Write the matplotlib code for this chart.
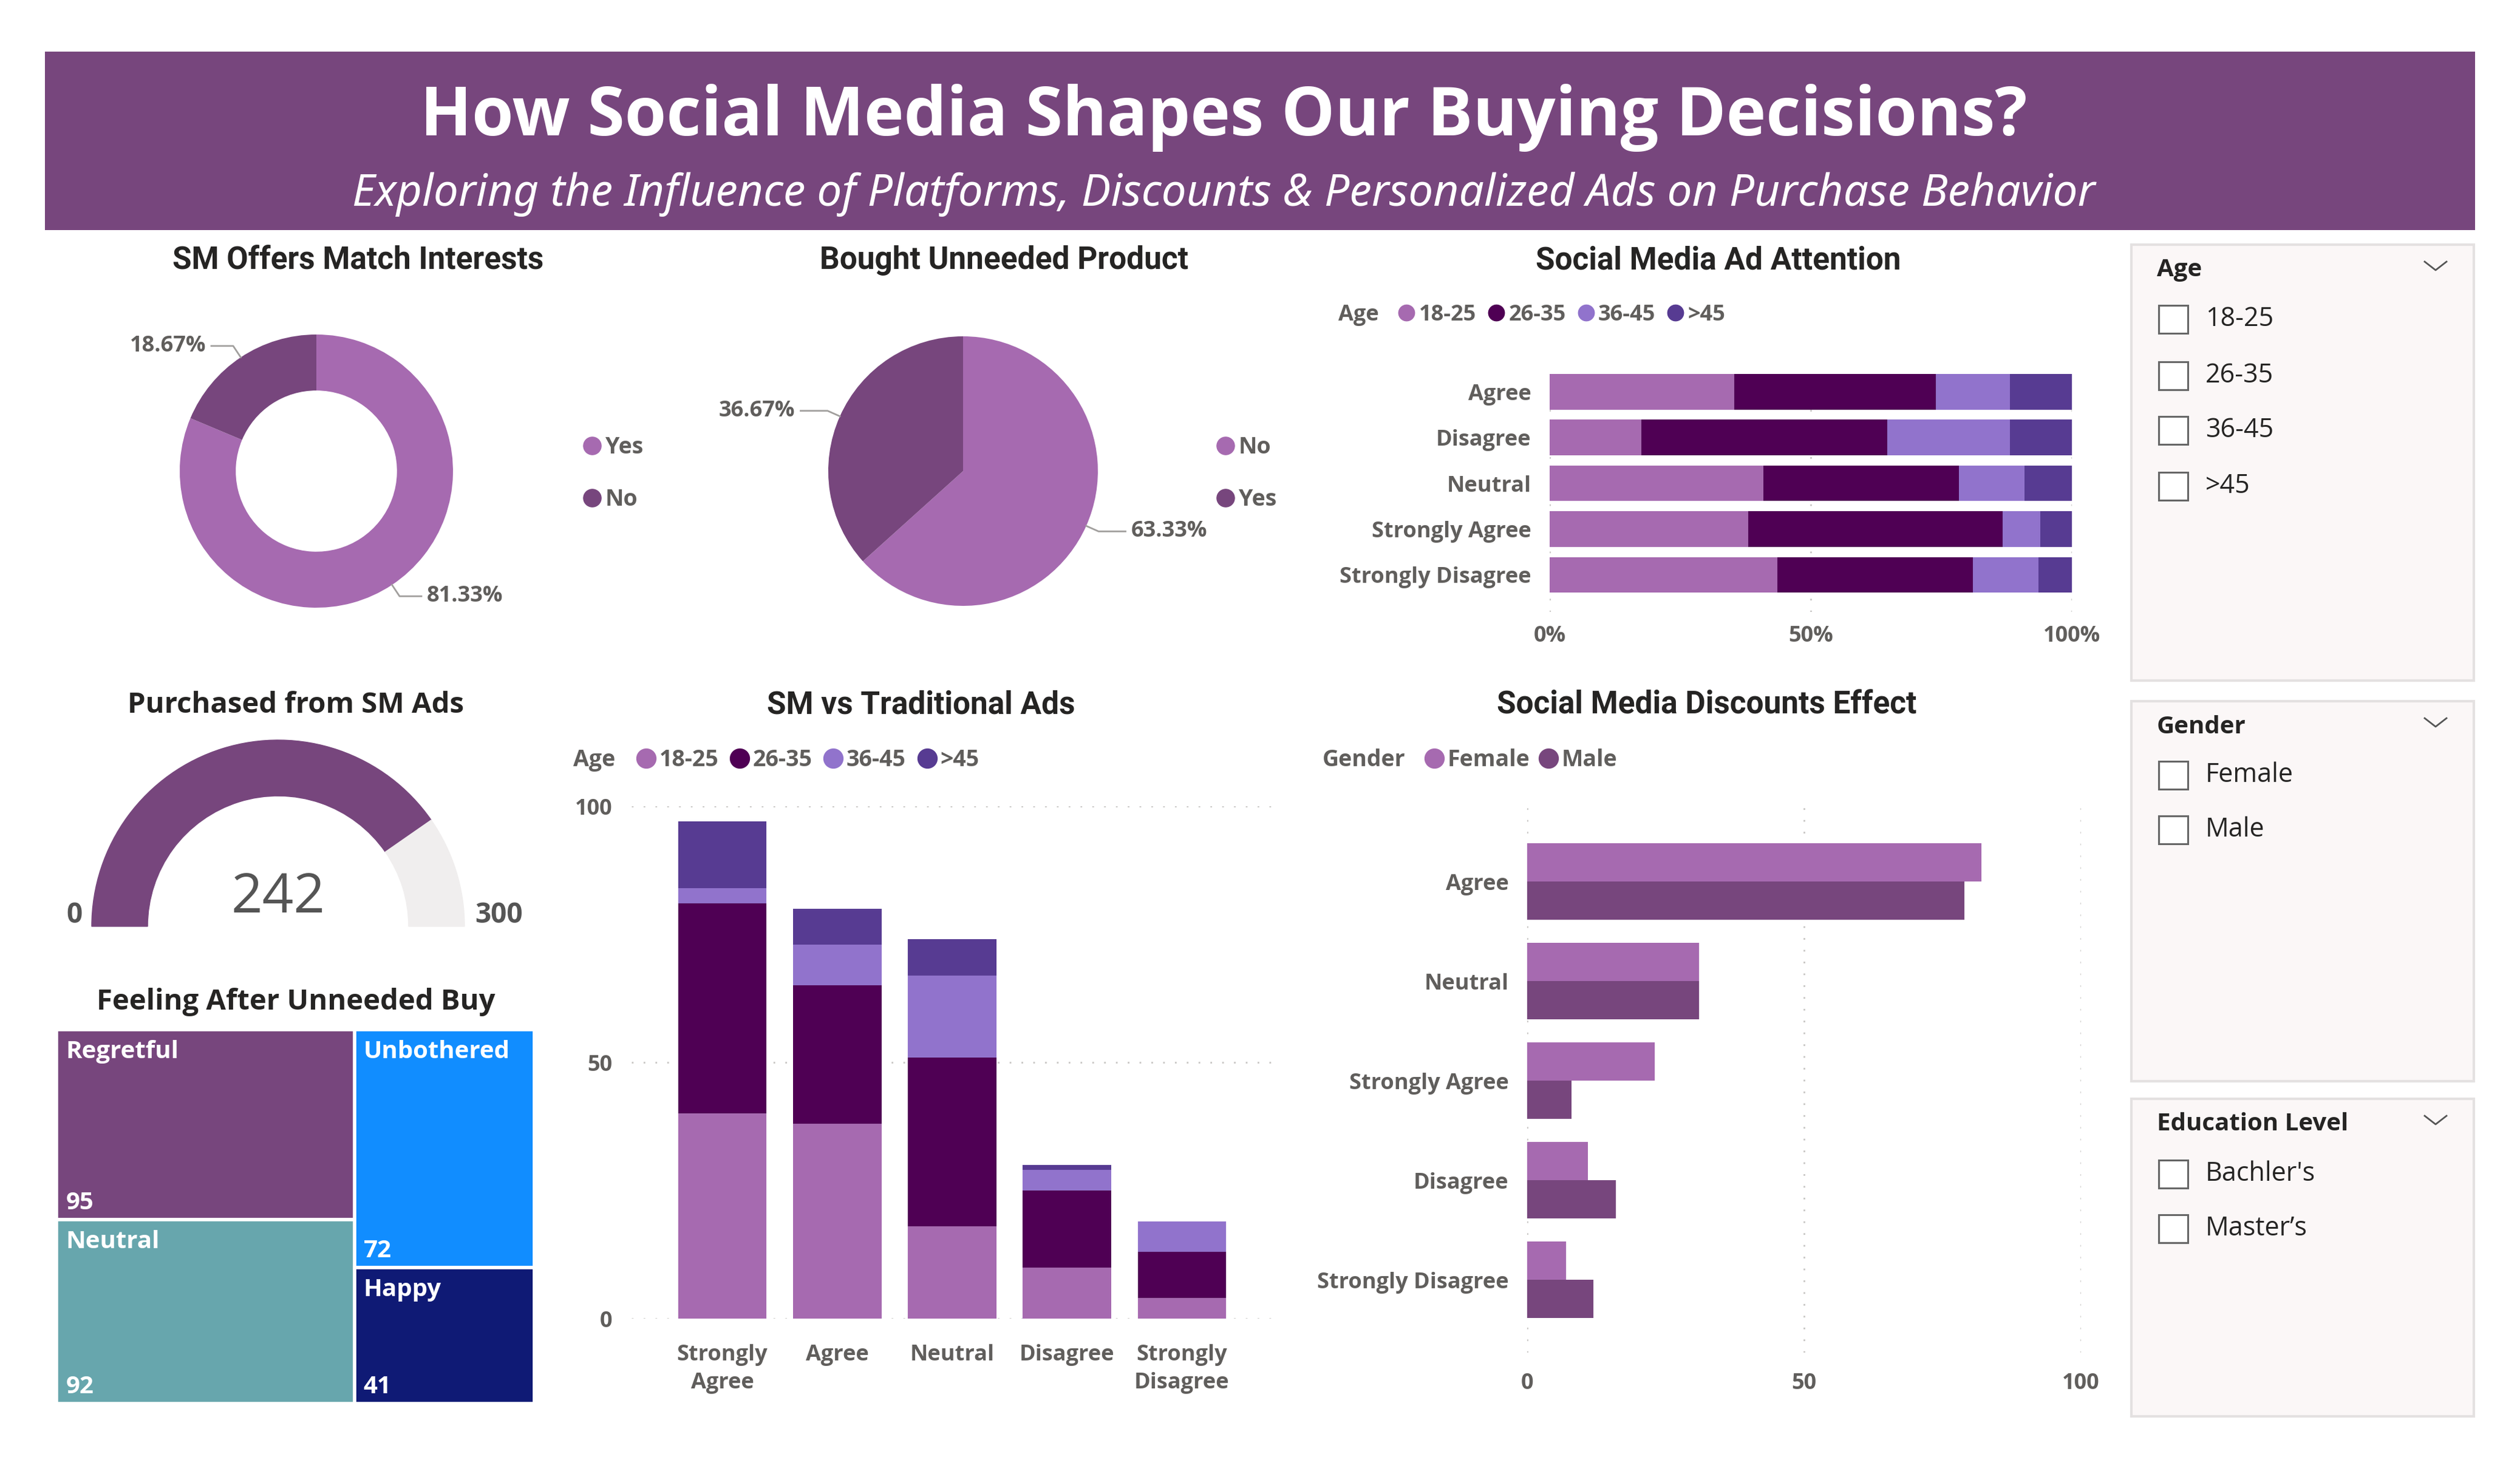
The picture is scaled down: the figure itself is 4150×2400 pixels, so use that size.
import numpy as np
import matplotlib
matplotlib.use('Agg')
import matplotlib.pyplot as plt
from matplotlib.patches import Rectangle, Wedge
from matplotlib.lines import Line2D
from matplotlib import font_manager

W, H = 4150, 2400

# ---- data ----
offers_labels = ['Yes', 'No']
offers_share = [81.33, 18.67]

unneeded_labels = ['No', 'Yes']
unneeded_share = [63.33, 36.67]

purchased_sm = 242
gauge_max = 300

feelings = ['Regretful', 'Neutral', 'Unbothered', 'Happy']
feeling_counts = [95, 92, 72, 41]

ages = ['18-25', '26-35', '36-45', '>45']

attention_cats = ['Agree', 'Disagree', 'Neutral', 'Strongly Agree', 'Strongly Disagree']
attention_18_25 = [35.4, 17.6, 40.9, 38.0, 43.6]
attention_26_35 = [38.5, 47.0, 37.5, 48.8, 37.5]
attention_36_45 = [14.2, 23.5, 12.5, 7.2, 12.5]
attention_45_up = [11.9, 11.9, 9.1, 6.0, 6.4]

trad_cats = ['Strongly\nAgree', 'Agree', 'Neutral', 'Disagree', 'Strongly\nDisagree']
trad_18_25 = [40, 38, 18, 10, 4]
trad_26_35 = [41, 27, 33, 15, 9]
trad_36_45 = [3, 8, 16, 4, 6]
trad_45_up = [13, 7, 7, 1, 0]

disc_cats = ['Agree', 'Neutral', 'Strongly Agree', 'Disagree', 'Strongly Disagree']
disc_female = [82, 31, 23, 11, 7]
disc_male = [79, 31, 8, 16, 12]

slicer_titles = ['Age', 'Gender', 'Education Level']
slicer_items = [['18-25', '26-35', '36-45', '>45'], ['Female', 'Male'], ["Bachler's", "Master\u2019s"]]

# ---- colours / fonts ----
LIGHT = '#A66AB0'
DARK = '#77467D'
DEEP = '#4F0054'
LAV = '#9173CC'
INDIGO = '#573B92'
age_colors = [LIGHT, DEEP, LAV, INDIGO]
feeling_colors = [DARK, '#67A6AD', '#118DFF', '#0F1A75']
GREY = '#605E5C'
INK = '#252423'

plt.rcParams['font.family'] = ['Open Sans', 'DejaVu Sans']
names = {f.name for f in font_manager.fontManager.ttflist}
TFONT = 'Liberation Sans Narrow' if 'Liberation Sans Narrow' in names else 'Roboto'

fig = plt.figure(figsize=(W / 100, H / 100), dpi=100)
fig.patch.set_facecolor('white')


def fbox(x0, y0, x1, y1):
    return [x0 / W, 1 - y1 / H, (x1 - x0) / W, (y1 - y0) / H]


def ftext(x, y, s, **kw):
    return fig.text(x / W, 1 - y / H, s, **kw)


def round_limits(ax, cx, cy, R, x0, y0, x1, y1):
    # unit = R pixels, in both directions
    ax.set_aspect('auto')
    ax.set_position(fbox(x0, y0, x1, y1))
    ax.set_xlim((x0 - cx) / R, (x1 - cx) / R)
    ax.set_ylim((cy - y1) / R, (cy - y0) / R)
    ax.axis('off')


def legend(ax, labels, colors, x, y, size, ms, ncol, tpad, cspace, lspace=0.5):
    hl = [Line2D([], [], ls='', marker='o', ms=ms, color=c) for c in colors]
    ax.legend(hl, labels, loc='center left', bbox_to_anchor=(x / W, 1 - y / H),
              bbox_transform=fig.transFigure, ncol=ncol, frameon=False,
              handlelength=ms / size, handletextpad=tpad, columnspacing=cspace,
              labelspacing=lspace, borderpad=0, borderaxespad=0, labelcolor=GREY,
              prop=dict(size=size, weight='bold'))


def pie_labels(ax, wedges, shares, r, run):
    for w, s in zip(wedges, shares):
        a = np.deg2rad((w.theta1 + w.theta2) / 2)
        sx = np.sign(np.cos(a))
        x0, y0 = r * np.cos(a), r * np.sin(a)
        x1, y1 = (r + 0.1) * np.cos(a), (r + 0.1) * np.sin(a)
        x2 = x1 + sx * run
        ax.plot([x0, x1, x2], [y0, y1, y1], color='#A19F9D', lw=2)
        ax.text(x2 + sx * 0.04, y1, f'{s:.2f}%', ha='left' if sx > 0 else 'right',
                va='center', fontsize=26, color=GREY, fontweight='bold')


def style_axis(ax, xpad, ypad):
    ax.tick_params(axis='x', length=0, pad=xpad, labelsize=26, labelcolor=GREY)
    ax.tick_params(axis='y', length=0, pad=ypad, labelsize=26, labelcolor=GREY)
    for t in ax.get_xticklabels() + ax.get_yticklabels():
        t.set_fontweight('bold')
    for s in ax.spines.values():
        s.set_visible(False)


# ---- banner ----
fig.add_artist(Rectangle((74 / W, 1 - 379 / H), (4076 - 74) / W, (379 - 85) / H,
                         transform=fig.transFigure, facecolor=DARK, edgecolor='none', zorder=0))
ftext(2015, 194, 'How Social Media Shapes Our Buying Decisions?', ha='center', va='center',
      color='white', fontsize=80, fontweight='bold')
ftext(2015, 320, 'Exploring the Influence of Platforms, Discounts & Personalized Ads on Purchase Behavior',
      ha='center', va='center', color='white', fontsize=52.5, fontstyle='italic', family='Noto Sans')

# ---- panel titles ----
for x, y, s in [(590, 429, 'SM Offers Match Interests'), (1654, 429, 'Bought Unneeded Product'),
                (2830, 429, 'Social Media Ad Attention'), (1517, 1161, 'SM vs Traditional Ads'),
                (2811, 1161, 'Social Media Discounts Effect')]:
    ftext(x, y, s, ha='center', va='center', fontsize=37, fontweight='bold', color=INK, family=TFONT)
for x, y, s in [(487, 1161, 'Purchased from SM Ads'), (487, 1650, 'Feeling After Unneeded Buy')]:
    ftext(x, y, s, ha='center', va='center', fontsize=34, fontweight='bold', color=INK)

# ---- donut ----
ax = fig.add_axes(fbox(200, 500, 960, 1050))
wd, _ = ax.pie(offers_share, colors=[LIGHT, DARK], startangle=90, counterclock=False,
               radius=1, wedgeprops=dict(width=0.41, edgecolor='none'))
round_limits(ax, 521, 776, 225, 200, 500, 960, 1050)
pie_labels(ax, wd, offers_share, 1.0, 0.16)
legend(ax, offers_labels, [LIGHT, DARK], 960, 780, 27, 21, 1, 0.2, 0.5, 1.3)

# ---- pie ----
ax = fig.add_axes(fbox(1250, 500, 2000, 1050))
wd, _ = ax.pie(unneeded_share, colors=[LIGHT, DARK], startangle=90, counterclock=False,
               radius=1, wedgeprops=dict(edgecolor='none'))
round_limits(ax, 1586, 776, 222, 1250, 500, 2000, 1050)
pie_labels(ax, wd, unneeded_share, 1.0, 0.2)
legend(ax, unneeded_labels, [LIGHT, DARK], 2003, 780, 27, 21, 1, 0.2, 0.5, 1.3)

# ---- stacked 100% bars ----
ax = fig.add_axes(fbox(2552, 600, 3412, 1008))
att = np.array([attention_18_25, attention_26_35, attention_36_45, attention_45_up])
att = att / att.sum(axis=0) * 100
yy = np.arange(len(attention_cats))
left = np.zeros(len(yy))
for row, c in zip(att, age_colors):
    ax.barh(yy, row, left=left, height=0.78, color=c, zorder=2)
    left += row
ax.set_xlim(0, 100)
ax.set_ylim(4.81, -0.6)
ax.set_xticks([0, 50, 100], ['0%', '50%', '100%'])
ax.set_yticks(yy, attention_cats)
ax.xaxis.grid(True, color='#C8C6C4', ls=(0, (1, 6)), lw=2)
style_axis(ax, 16, 22)
ftext(2204, 519, 'Age', ha='left', va='center', fontsize=26, color=GREY, fontweight='bold')
legend(ax, ages, age_colors, 2303, 519, 26, 19, 4, 0.2, 0.55)

# ---- gauge ----
ax = fig.add_axes(fbox(100, 1190, 816, 1560))
split = 180 - 180 * purchased_sm / gauge_max
ax.add_patch(Wedge((0, 0), 1, split, 180, width=0.3, color=DARK))
ax.add_patch(Wedge((0, 0), 1, 0, split, width=0.3, color='#F0EEEE'))
round_limits(ax, 458, 1526, 307, 100, 1190, 816, 1560)
ax.text(0, 0.15, f'{purchased_sm}', ha='center', va='center', fontsize=65, color='#555555')
ax.text(-1.05, 0.06, '0', ha='right', va='center', fontsize=33, color='#555555', fontweight='bold')
ax.text(1.055, 0.06, f'{gauge_max}', ha='left', va='center', fontsize=33, color='#555555', fontweight='bold')

# ---- treemap ----
ax = fig.add_axes(fbox(93, 1696, 880, 2312))
ax.set_xlim(0, 1)
ax.set_ylim(0, 1)
ax.axis('off')
total = sum(feeling_counts)
x0 = 0.0
for grp in [(0, 1), (2, 3)]:
    colsum = sum(feeling_counts[i] for i in grp)
    wcol = colsum / total
    top = 1.0
    for i in grp:
        h = feeling_counts[i] / colsum
        ax.add_patch(Rectangle((x0, top - h), wcol, h, facecolor=feeling_colors[i],
                               edgecolor='white', lw=4))
        ax.annotate(feelings[i], (x0, top), xytext=(11, -12), textcoords='offset points',
                    ha='left', va='top', color='white', fontsize=29, fontweight='bold')
        ax.annotate(f'{feeling_counts[i]}', (x0, top - h), xytext=(11, 6), textcoords='offset points',
                    ha='left', va='bottom', color='white', fontsize=29, fontweight='bold')
        top -= h
    x0 += wcol

# ---- SM vs traditional (stacked columns) ----
ax = fig.add_axes(fbox(1040, 1328, 2094, 2172))
tr = np.array([trad_18_25, trad_26_35, trad_36_45, trad_45_up])
xx = np.arange(len(trad_cats))
bottom = np.zeros(len(xx))
for row, c in zip(tr, age_colors):
    ax.bar(xx, row, bottom=bottom, width=0.77, color=c, zorder=2)
    bottom += row
ax.set_xlim(-0.79, 4.78)
ax.set_ylim(0, 100)
ax.set_yticks([0, 50, 100])
ax.set_xticks(xx, trad_cats)
ax.yaxis.grid(True, color='#C8C6C4', ls=(0, (1, 6)), lw=2)
style_axis(ax, 30, 23)
for t in ax.get_xticklabels():
    t.set_linespacing(1.4)
ftext(944, 1252, 'Age', ha='left', va='center', fontsize=27, color=GREY, fontweight='bold')
legend(ax, ages, age_colors, 1048, 1252, 27, 23, 4, 0.15, 0.5)

# ---- discounts (clustered bars) ----
ax = fig.add_axes(fbox(2515, 1328, 3427, 2228))
yy = np.arange(len(disc_cats))
ax.barh(yy - 0.1925, disc_female, height=0.385, color=LIGHT, zorder=2)
ax.barh(yy + 0.1925, disc_male, height=0.385, color=DARK, zorder=2)
ax.set_xlim(0, 100)
ax.set_ylim(4.73, -0.756)
ax.set_xticks([0, 50, 100])
ax.set_yticks(yy, disc_cats)
ax.xaxis.grid(True, color='#C8C6C4', ls=(0, (1, 6)), lw=2)
style_axis(ax, 24, 22)
ftext(2178, 1252, 'Gender', ha='left', va='center', fontsize=27, color=GREY, fontweight='bold')
legend(ax, ['Female', 'Male'], [LIGHT, DARK], 2346, 1252, 27, 23, 2, 0.15, 0.4)

# ---- slicers ----
boxes = [(403, 1121), (1155, 1781), (1810, 2333)]
title_y = [445, 1197, 1852]
item_y = [[526, 619, 709, 801], [1277, 1367], [1934, 2024]]
for (y0, y1), ty, title, items, iys in zip(boxes, title_y, slicer_titles, slicer_items, item_y):
    fig.add_artist(Rectangle((3510 / W, 1 - y1 / H), (4074 - 3510) / W, (y1 - y0) / H,
                             transform=fig.transFigure, facecolor='#FBF7F7',
                             edgecolor='#E4E1E1', lw=3, zorder=0))
    ftext(3552, ty, title, ha='left', va='center', fontsize=29, fontweight='bold', color=INK)
    cy = ty - 6
    fig.add_artist(Line2D([3993 / W, 4011 / W, 4029 / W],
                          [1 - (cy - 8) / H, 1 - (cy + 6) / H, 1 - (cy - 8) / H],
                          transform=fig.transFigure, color='#555555', lw=2))
    for s, iy in zip(items, iys):
        fig.add_artist(Rectangle((3555 / W, 1 - (iy + 23) / H), 48 / W, 46 / H,
                                 transform=fig.transFigure, facecolor='white',
                                 edgecolor='#666666', lw=2.2))
        ftext(3632, iy, s, ha='left', va='center', fontsize=31, color=INK)

fig.savefig('out.png', dpi=100, facecolor='white')
